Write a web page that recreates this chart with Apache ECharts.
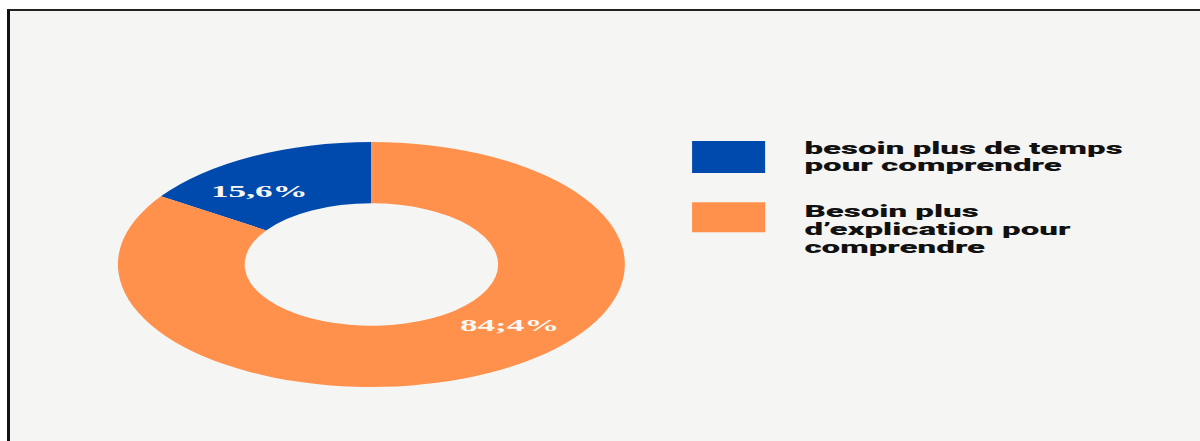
<!DOCTYPE html>
<html>
<head>
<meta charset="utf-8">
<script src="https://cdn.jsdelivr.net/npm/echarts@6/dist/echarts.min.js"></script>
<style>
  html, body { margin: 0; padding: 0; background: #ffffff; }
  body { width: 1200px; height: 441px; position: relative; overflow: hidden; }
  #frame {
    position: absolute; left: 7px; top: 9px; width: 1250px; height: 500px;
    border-left: 3px solid #111; border-top: 2px solid #222;
    background: #f5f5f4; box-sizing: border-box;
  }
  /* the chart is laid out narrow and widened horizontally */
  #chart {
    position: absolute; left: 0; top: 0; width: 580px; height: 441px;
    transform: scaleX(2.069); transform-origin: 0 0;
  }
</style>
</head>
<body>
<div id="frame"></div>
<div id="chart"></div>
<script>
// Answer categories (legend order) and their shares in percent
const categories = [
  'besoin plus de temps\npour comprendre',
  'Besoin plus\nd\u2019explication pour\ncomprendre'
];
const shares = [15.6, 84.4];
// decimal separator written in each slice label
const separators = [',', ';'];
const colors = ['#004aad', '#ff914d'];

// small nudges of the slice labels away from the slice mid-angle
const labelNudge = [[-9.5, 10.2], [22.2, -22.9]];

const chart = echarts.init(document.getElementById('chart'), null, { renderer: 'svg' });

function legendEntry(index, top, itemHeight, lineHeight, padTop) {
  return {
    orient: 'vertical',
    left: 334.5,
    top: top,
    padding: 0,
    itemWidth: 35.3,
    itemHeight: itemHeight,
    icon: 'rect',
    selectedMode: false,
    data: [categories[index]],
    // rich markup so that the block padding is honoured
    formatter: function (name) {
      return name.split('\n').map(function (l) { return '{t|' + l + '}'; }).join('\n');
    },
    textStyle: {
      padding: [padTop, 0, 0, 14],
      rich: {
        t: {
          fontFamily: 'Roboto',
          fontWeight: 900,
          fontSize: 16,
          lineHeight: lineHeight,
          color: '#111111'
        }
      }
    }
  };
}

chart.setOption({
  animation: false,
  backgroundColor: 'transparent',
  color: colors,
  legend: [
    legendEntry(0, 140.4, 32, 17.4, 0),
    legendEntry(1, 202.3, 30, 17.7, 24.4)
  ],
  series: [{
    type: 'pie',
    center: [179.5, 264.5],
    radius: [61.25, 122.5],
    startAngle: 90,
    clockwise: false,
    avoidLabelOverlap: false,
    silent: true,
    label: {
      show: true,
      position: 'inside',
      fontFamily: 'Liberation Serif',
      fontWeight: 'bold',
      fontSize: 17,
      color: '#fbf8f3',
      formatter: function (p) {
        return p.value.toFixed(1).replace('.', separators[p.dataIndex]) + '%';
      }
    },
    labelLine: { show: false },
    labelLayout: function (p) {
      return { dx: labelNudge[p.dataIndex][0], dy: labelNudge[p.dataIndex][1] };
    },
    data: categories.map(function (name, i) {
      return { name: name, value: shares[i] };
    })
  }]
});
</script>
</body>
</html>
